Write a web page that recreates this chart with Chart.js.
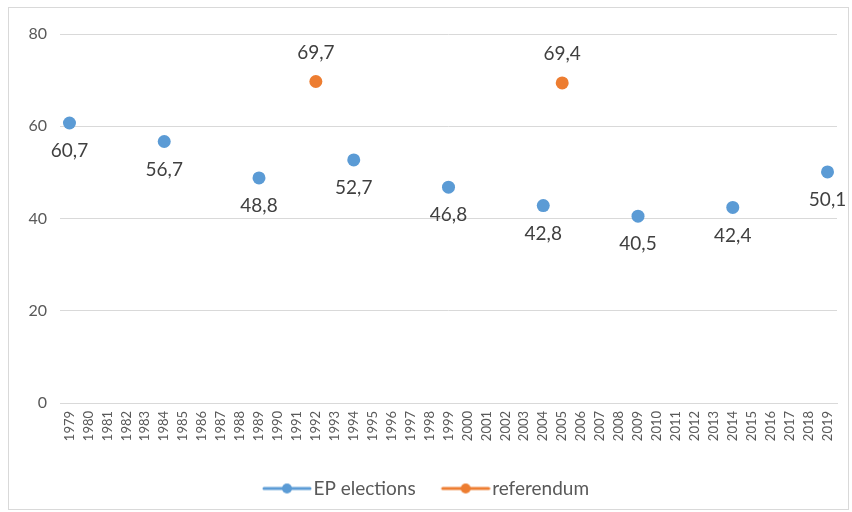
<!DOCTYPE html>
<html>
<head>
<meta charset="utf-8">
<script src="https://cdn.jsdelivr.net/npm/chart.js@4"></script>
<style>
  html, body { margin: 0; padding: 0; background: #fff; }
  #wrap { width: 852px; height: 512px; }
</style>
</head>
<body>
<div id="wrap"><canvas id="turnout" width="852" height="512"></canvas></div>
<script>
// years shown on the axis
const years = [];
for (let y = 1979; y <= 2019; y++) years.push(String(y));

const epYears = ['1979', '1984', '1989', '1994', '1999', '2004', '2009', '2014', '2019'];
const epTurnout = [60.7, 56.7, 48.8, 52.7, 46.8, 42.8, 40.5, 42.4, 50.1];

const refYears = ['1992', '2005'];
const refTurnout = [69.7, 69.4];

const yTicks = [0, 20, 40, 60, 80];

const blue = '#5B9BD5';
const orange = '#ED7D31';

function toSeries(ys, vals) {
  return years.map(y => {
    const i = ys.indexOf(y);
    return i < 0 ? null : vals[i];
  });
}

// legend icon: short line with a dot in the middle (blank left margin = item gap)
function legendIcon(color) {
  const c = document.createElement('canvas');
  c.width = 72; c.height = 12;
  const g = c.getContext('2d');
  g.strokeStyle = color;
  g.lineWidth = 3;
  g.lineCap = 'round';
  g.beginPath(); g.moveTo(24, 6); g.lineTo(70, 6); g.stroke();
  g.fillStyle = color;
  g.beginPath(); g.arc(47, 6, 5, 0, Math.PI * 2); g.fill();
  return c;
}
const icons = [legendIcon(blue), legendIcon(orange)];

const valueLabels = {
  id: 'valueLabels',
  afterDatasetsDraw(chart) {
    const ctx = chart.ctx;
    ctx.save();
    ctx.font = '19px Lato';
    ctx.fillStyle = '#404040';
    ctx.textAlign = 'center';
    ctx.textBaseline = 'middle';
    chart.data.datasets.forEach((ds, di) => {
      const meta = chart.getDatasetMeta(di);
      meta.data.forEach((pt, i) => {
        const v = ds.data[i];
        if (v == null) return;
        const dy = ds.labelAbove ? -29 : 28;
        ctx.fillText(String(v).replace('.', ','), pt.x, pt.y + dy);
      });
    });
    ctx.restore();
  }
};

const frame = {
  id: 'frame',
  beforeDraw(chart) {
    const ctx = chart.ctx;
    ctx.save();
    ctx.strokeStyle = '#d9d9d9';
    ctx.lineWidth = 1;
    ctx.strokeRect(8.5, 7.5, 840, 502);
    ctx.restore();
  }
};

const ctx = document.getElementById('turnout');

new Chart(ctx, {
  type: 'line',
  data: {
    labels: years,
    datasets: [{
      label: 'EP elections',
      data: toSeries(epYears, epTurnout),
      showLine: false,
      backgroundColor: blue,
      borderColor: blue,
      pointRadius: 6.5,
      pointHoverRadius: 6.5,
      pointBorderWidth: 0
    }, {
      label: 'referendum',
      data: toSeries(refYears, refTurnout),
      labelAbove: true,
      showLine: false,
      backgroundColor: orange,
      borderColor: orange,
      pointRadius: 6.5,
      pointHoverRadius: 6.5,
      pointBorderWidth: 0
    }]
  },
  options: {
    responsive: false,
    animation: false,
    layout: { padding: { left: 0, right: 15, top: 34, bottom: 4 } },
    scales: {
      x: {
        offset: true,
        afterFit(axis) { axis.height = 65; },
        grid: { display: false, drawTicks: false },
        border: { color: '#d9d9d9' },
        ticks: {
          autoSkip: false,
          minRotation: 90,
          maxRotation: 90,
          color: '#595959',
          font: { family: 'Lato', size: 13 },
          padding: 8
        }
      },
      y: {
        min: 0,
        max: 80,
        afterFit(axis) { axis.width = 60; },
        afterBuildTicks(axis) { axis.ticks = yTicks.map(v => ({ value: v })); },
        grid: { color: '#d9d9d9', drawTicks: false },
        border: { display: false },
        ticks: {
          color: '#595959',
          font: { family: 'Lato', size: 16 },
          padding: 13
        }
      }
    },
    plugins: {
      tooltip: { enabled: false },
      legend: {
        position: 'bottom',
        labels: {
          usePointStyle: true,
          pointStyleWidth: 56,
          color: '#595959',
          font: { family: 'Lato', size: 19 },
          padding: 11,
          generateLabels(chart) {
            const items = Chart.defaults.plugins.legend.labels.generateLabels(chart);
            items.forEach((it, i) => { it.pointStyle = icons[i]; });
            return items;
          }
        }
      }
    }
  },
  plugins: [frame, valueLabels]
});
</script>
</body>
</html>
